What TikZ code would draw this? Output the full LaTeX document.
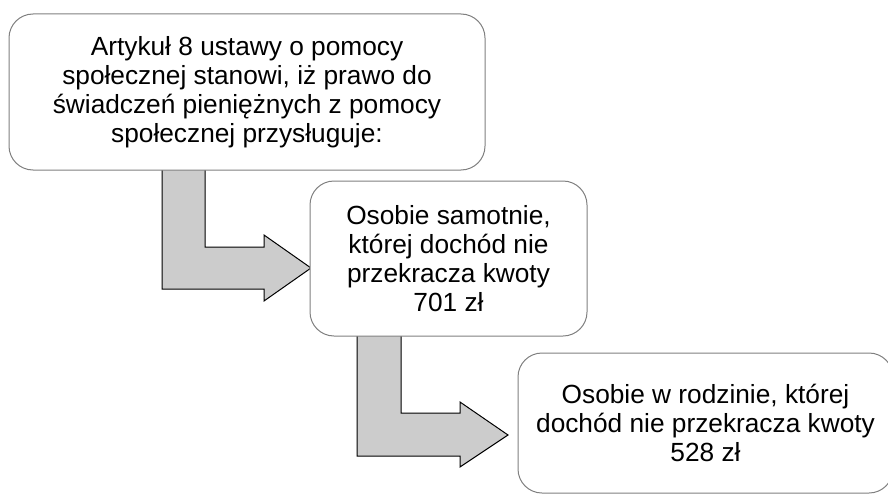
\documentclass[tikz,border=0pt]{standalone}
\usepackage{fontspec}
\setmainfont{Liberation Sans}
\usepackage{tikz}

\tikzset{
    riquadro/.style={draw=black!50, line width=0.75pt, fill=white, rounded corners=18pt,
        align=center, inner sep=0pt, font=\fontsize{19.7}{21.8}\selectfont},
    freccia/.style={draw=black, line width=0.75pt, fill=black!20}
}

\begin{document}
\begin{tikzpicture}[x=0.75pt, y=-0.75pt]
        \useasboundingbox (0,0) rectangle (888,503);

        % Frecce
        \draw[freccia] (162,168) -- (162,289) -- (264,289) -- (264,301) -- (311,268)
            -- (264,235) -- (264,247) -- (205,247) -- (205,168) -- cycle;
        \draw[freccia] (357,334) -- (357,456) -- (460,456) -- (460,467) -- (508,435)
            -- (460,402) -- (460,413) -- (401,413) -- (401,334) -- cycle;

        % Riquadri
        \node[riquadro, minimum width=357pt, minimum height=117pt] (art) at (247,92)
            {Artykuł 8 ustawy o pomocy\\społecznej stanowi, iż prawo do\\świadczeń pieniężnych z pomocy\\społecznej przysługuje:};
        \node[riquadro, minimum width=207.75pt, minimum height=116.25pt] (samotna) at (448.5,258.5)
            {Osobie samotnie,\\której dochód nie\\przekracza kwoty\\701 zł};
        \node[riquadro, minimum width=281.25pt, minimum height=105pt] (rodzina) at (705.5,423)
            {Osobie w rodzinie, której\\dochód nie przekracza kwoty\\528 zł};

    \end{tikzpicture}
\end{document}
